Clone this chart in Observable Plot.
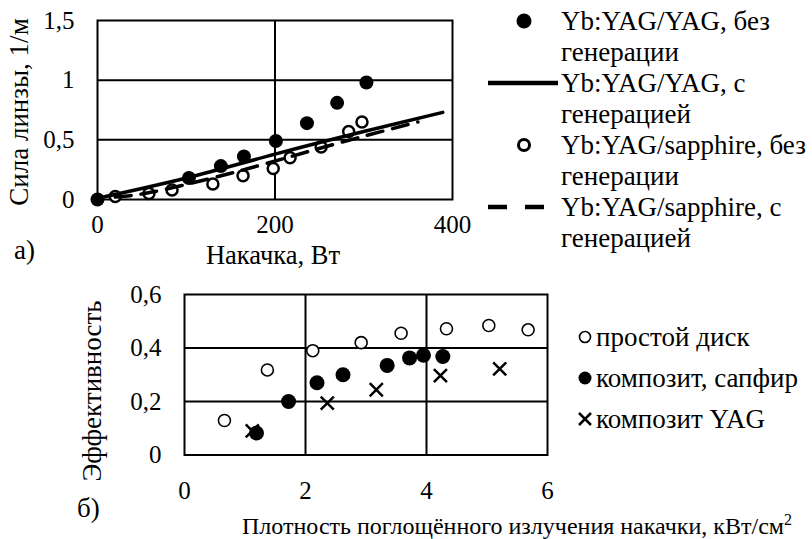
<!DOCTYPE html>
<html><head><meta charset="utf-8">
<script src="https://cdn.jsdelivr.net/npm/d3@7"></script>
<script src="https://cdn.jsdelivr.net/npm/@observablehq/plot@0.6"></script>
<style>
html,body{margin:0;padding:0;background:#fff;}
#wrap{position:relative;width:812px;height:539px;overflow:hidden;font-family:"Liberation Serif","DejaVu Serif",serif;}
#top,#bot,#ov{position:absolute;left:0;}
#top{top:0;} #bot{top:270px;} #ov{top:0;pointer-events:none;}
#ov text{font-family:"Liberation Serif","DejaVu Serif",serif;font-size:27px;fill:#000;}
</style></head><body>
<div id="wrap"><div id="top"></div><div id="bot"></div>
<svg id="ov" width="812" height="539" xmlns="http://www.w3.org/2000/svg">
  <text transform="translate(19,112) rotate(-90)" text-anchor="middle" dy="0.35em">Сила линзы, 1/м</text>
  <text x="14" y="250" dy="0.35em">а)</text>
  <text x="273" y="255" text-anchor="middle" dy="0.35em" style="font-size:26.5px">Накачка, Вт</text>
  <!-- top legend -->
  <circle cx="524" cy="21" r="7.5" fill="#000"/>
  <line x1="488" x2="558" y1="83" y2="83" stroke="#000" stroke-width="4.5"/>
  <circle cx="524" cy="145" r="5.5" fill="#fff" stroke="#000" stroke-width="3"/>
  <line x1="488" x2="546" y1="207" y2="207" stroke="#000" stroke-width="4.5" stroke-dasharray="19,18"/>
  <text x="561" y="21" dy="0.35em">Yb:YAG/YAG, без</text>
  <text x="561" y="52" dy="0.35em">генерации</text>
  <text x="561" y="83" dy="0.35em">Yb:YAG/YAG, с</text>
  <text x="561" y="114" dy="0.35em">генерацией</text>
  <text x="561" y="145" dy="0.35em">Yb:YAG/sapphire, без</text>
  <text x="561" y="176" dy="0.35em">генерации</text>
  <text x="561" y="207" dy="0.35em">Yb:YAG/sapphire, с</text>
  <text x="561" y="238" dy="0.35em">генерацией</text>
  <!-- bottom -->
  <text transform="translate(92,391) rotate(-90)" text-anchor="middle" dy="0.35em">Эффективность</text>
  <text x="77" y="508" dy="0.35em">б)</text>
  <text x="242" y="526" dy="0.35em" style="font-size:24px">Плотность поглощённого излучения накачки, кВт/см<tspan dy="-9" style="font-size:16px">2</tspan></text>
  <circle cx="585" cy="337" r="5.5" fill="#fff" stroke="#000" stroke-width="1.6"/>
  <circle cx="585" cy="378" r="6.5" fill="#000"/>
  <path d="M579,413L591,425M591,413L579,425" stroke="#000" stroke-width="2.5"/>
  <text x="596" y="337" dy="0.35em">простой диск</text>
  <text x="596" y="378" dy="0.35em">композит, сапфир</text>
  <text x="596" y="419" dy="0.35em">композит YAG</text>
</svg></div>
<script>
// ---- Chart a): lens power vs pump ----
const pumpYAGnoGen = [0, 103, 139, 165, 201, 236, 270, 303];
const lensYAGnoGen = [0, 0.18, 0.28, 0.36, 0.49, 0.64, 0.81, 0.98];
const pumpSapphNoGen = [20, 58, 84, 130, 164, 198, 217, 252, 283, 298];
const lensSapphNoGen = [0.025, 0.05, 0.08, 0.13, 0.20, 0.26, 0.35, 0.44, 0.57, 0.65];
const pumpYAGgen = [0, 100, 200, 300, 389];
const lensYAGgen = [0.01, 0.18, 0.38, 0.57, 0.73];
const pumpSapphGen = [20, 60, 124, 170, 218, 275, 361];
const lensSapphGen = [0.02, 0.06, 0.17, 0.26, 0.36, 0.48, 0.65];
const pumpTicks = [0, 200, 400];
const lensTicks = [0, 0.5, 1, 1.5];

// ---- Chart б): efficiency vs absorbed pump density ----
const densSimple = [0.66, 1.37, 2.12, 2.92, 3.58, 4.33, 5.03, 5.68];
const effSimple = [0.129, 0.318, 0.39, 0.42, 0.455, 0.472, 0.484, 0.468];
const densSapph = [1.19, 1.72, 2.19, 2.62, 3.35, 3.72, 3.95, 4.27];
const effSapph = [0.082, 0.20, 0.27, 0.30, 0.335, 0.363, 0.373, 0.368];
const densYAG = [1.12, 2.36, 3.17, 4.23, 5.21];
const effYAG = [0.09, 0.194, 0.244, 0.297, 0.322];
const densTicks = [0, 2, 4, 6];
const effTicks = [0, 0.2, 0.4, 0.6];

const zip = (xs, ys) => xs.map((x, i) => ({x, y: ys[i]}));
const fmt = d => String(d).replace(".", ",");
const style = {fontFamily: "'Liberation Serif','DejaVu Serif',serif", fontSize: "25px", color: "#000", background: "transparent", overflow: "visible"};

const topChart = Plot.plot({
  width: 470, height: 265,
  marginLeft: 97, marginRight: 18, marginTop: 20, marginBottom: 66,
  style,
  x: {domain: [0, 400], ticks: pumpTicks, tickSize: 0, tickPadding: 16, tickFormat: fmt, label: null},
  y: {domain: [0, 1.5], ticks: lensTicks, tickSize: 0, tickPadding: 23, tickFormat: fmt, label: null},
  marks: [
    Plot.gridX([200], {stroke: "#000", strokeOpacity: 1, strokeWidth: 2}),
    Plot.gridY([0.5, 1], {stroke: "#000", strokeOpacity: 1, strokeWidth: 2}),
    Plot.frame({stroke: "#000", strokeWidth: 2}),
    Plot.dot(zip(pumpSapphNoGen, lensSapphNoGen), {x: "x", y: "y", r: 5.5, stroke: "#000", strokeWidth: 2.5, fill: "#fff"}),
    Plot.dot(zip(pumpYAGnoGen, lensYAGnoGen), {x: "x", y: "y", r: 7, fill: "#000"}),
    Plot.line(zip(pumpYAGgen, lensYAGgen), {x: "x", y: "y", stroke: "#000", strokeWidth: 3.5, curve: "natural"}),
    Plot.line(zip(pumpSapphGen, lensSapphGen), {x: "x", y: "y", stroke: "#000", strokeWidth: 3.5, strokeDasharray: "16,10", curve: "natural"})
  ]
});
document.getElementById("top").appendChild(topChart);

const botChart = Plot.plot({
  width: 570, height: 240,
  marginLeft: 184, marginRight: 23, marginTop: 24, marginBottom: 55.5,
  style,
  x: {domain: [0, 6], ticks: densTicks, tickSize: 0, tickPadding: 26, tickFormat: fmt, label: null},
  y: {domain: [0, 0.6], ticks: effTicks, tickSize: 0, tickPadding: 23, tickFormat: fmt, label: null},
  marks: [
    Plot.gridX([2, 4], {stroke: "#000", strokeOpacity: 1, strokeWidth: 2}),
    Plot.gridY([0.2, 0.4], {stroke: "#000", strokeOpacity: 1, strokeWidth: 2}),
    Plot.frame({stroke: "#000", strokeWidth: 2}),
    Plot.dot(zip(densYAG, effYAG), {x: "x", y: "y", symbol: "times", r: 6, stroke: "#000", strokeWidth: 2.5}),
    Plot.dot(zip(densSimple, effSimple), {x: "x", y: "y", r: 6, stroke: "#000", strokeWidth: 1.6, fill: "#fff"}),
    Plot.dot(zip(densSapph, effSapph), {x: "x", y: "y", r: 7.5, fill: "#000"})
  ]
});
document.getElementById("bot").appendChild(botChart);
</script>
</body></html>
